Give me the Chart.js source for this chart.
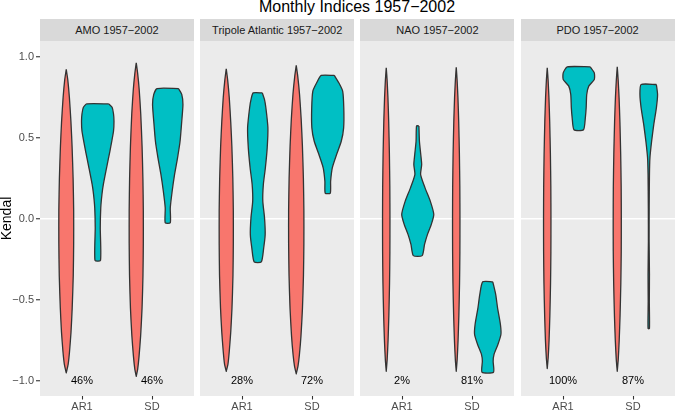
<!DOCTYPE html>
<html>
<head>
<meta charset="utf-8">
<script src="https://cdn.jsdelivr.net/npm/chart.js@4"></script>
<style>
  body { margin: 0; background: #fff; font-family: "Liberation Sans", Arial, sans-serif; }
  #wrap { position: relative; width: 675px; height: 411px; overflow: hidden; }
  canvas { position: absolute; top: 41px; }
  .strip { position: absolute; top: 19px; height: 22px; line-height: 23px; background: #D9D9D9;
           color: #1A1A1A; font-size: 11px; text-align: center; white-space: nowrap; }
  #title { position: absolute; left: 40px; width: 634px; top: -1px; font-size: 16px; line-height: 16px;
           text-align: center; color: #000; }
</style>
</head>
<body>
<div id="wrap">
  <div id="title">Monthly Indices 1957−2002</div>
  <div class="strip" id="s0"></div>
  <div class="strip" id="s1"></div>
  <div class="strip" id="s2"></div>
  <div class="strip" id="s3"></div>
  <canvas id="c0" width="194" height="370"></canvas>
  <canvas id="c1" width="154" height="370"></canvas>
  <canvas id="c2" width="154" height="370"></canvas>
  <canvas id="c3" width="154" height="370"></canvas>
</div>
<script>
const panels = ["AMO 1957−2002", "Tripole Atlantic 1957−2002", "NAO 1957−2002", "PDO 1957−2002"];
const indicators = ["AR1", "SD"];
const yTicks = [-1.0, -0.5, 0.0, 0.5, 1.0];
const pctLabels = [["46%", "46%"], ["28%", "72%"], ["2%", "81%"], ["100%", "87%"]];

// violin outlines: [kendall value, half width]
const amoRedAR1 = [[0.924,0],[0.86,0.022],[0.75,0.045],[0.6,0.067],[0.45,0.083],[0.25,0.098],[0.05,0.106],[-0.15,0.106],[-0.35,0.1],[-0.55,0.085],[-0.7,0.068],[-0.82,0.047],[-0.9,0.027],[-0.952,0]];
const amoRedSD = [[0.965,0],[0.9,0.02],[0.8,0.042],[0.65,0.064],[0.45,0.083],[0.25,0.095],[0.05,0.101],[-0.15,0.101],[-0.35,0.096],[-0.55,0.083],[-0.72,0.063],[-0.85,0.04],[-0.93,0.02],[-0.973,0]];
const amoCyanAR1 = [[0.711,0.157],[0.69,0.205],[0.65,0.225],[0.604,0.232],[0.542,0.225],[0.48,0.2],[0.419,0.174],[0.316,0.126],[0.213,0.08],[0.151,0.06],[0.068,0.043],[-0.055,0.036],[-0.257,0.039]];
const amoCyanSD = [[0.806,0.152],[0.77,0.2],[0.707,0.217],[0.604,0.2],[0.48,0.176],[0.378,0.14],[0.274,0.097],[0.171,0.063],[0.068,0.036],[-0.024,0.036]];

const triRedAR1 = [[0.928,0],[0.86,0.02],[0.75,0.043],[0.6,0.064],[0.45,0.08],[0.25,0.094],[0.05,0.101],[-0.15,0.101],[-0.35,0.096],[-0.55,0.082],[-0.7,0.064],[-0.82,0.043],[-0.9,0.024],[-0.942,0]];
const triRedSD = [[0.949,0],[0.88,0.022],[0.77,0.047],[0.62,0.07],[0.45,0.088],[0.25,0.102],[0.05,0.109],[-0.15,0.109],[-0.35,0.103],[-0.55,0.089],[-0.72,0.068],[-0.84,0.045],[-0.91,0.025],[-0.958,0]];
const triCyanAR1 = [[0.779,0.065],[0.74,0.095],[0.687,0.116],[0.563,0.145],[0.439,0.135],[0.316,0.109],[0.213,0.08],[0.11,0.072],[0.006,0.097],[-0.097,0.106],[-0.179,0.085],[-0.266,0.051]];
const triCyanSD = [[0.887,0.094],[0.84,0.16],[0.79,0.213],[0.687,0.229],[0.563,0.227],[0.48,0.193],[0.398,0.126],[0.316,0.065],[0.233,0.041],[0.159,0.036]];

const naoRedAR1 = [[0.934,0],[0.86,0.012],[0.75,0.024],[0.6,0.035],[0.4,0.045],[0.2,0.051],[0,0.053],[-0.2,0.052],[-0.4,0.047],[-0.6,0.037],[-0.75,0.026],[-0.87,0.013],[-0.942,0]];
const naoRedSD = [[0.938,0],[0.86,0.012],[0.75,0.024],[0.6,0.035],[0.4,0.045],[0.2,0.051],[0,0.053],[-0.2,0.052],[-0.4,0.047],[-0.6,0.037],[-0.75,0.026],[-0.87,0.013],[-0.942,0]];
const naoCyanAR1 = [[0.575,0.017],[0.48,0.024],[0.398,0.043],[0.336,0.056],[0.274,0.041],[0.192,0.104],[0.11,0.179],[0.027,0.229],[-0.035,0.193],[-0.097,0.138],[-0.158,0.097],[-0.227,0.063]];
const naoCyanSD = [[-0.389,0.072],[-0.468,0.114],[-0.55,0.14],[-0.653,0.181],[-0.715,0.188],[-0.777,0.145],[-0.839,0.089],[-0.88,0.077],[-0.948,0.082]];

const pdoRedAR1 = [[0.934,0],[0.86,0.012],[0.75,0.024],[0.6,0.035],[0.4,0.045],[0.2,0.051],[0,0.053],[-0.2,0.052],[-0.4,0.047],[-0.6,0.037],[-0.75,0.026],[-0.86,0.013],[-0.925,0]];
const pdoRedSD = [[0.94,0],[0.86,0.013],[0.75,0.026],[0.6,0.038],[0.4,0.049],[0.2,0.056],[0,0.058],[-0.2,0.057],[-0.4,0.051],[-0.6,0.04],[-0.75,0.028],[-0.87,0.014],[-0.942,0]];
const pdoCyanAR1 = [[0.94,0.164],[0.903,0.222],[0.862,0.222],[0.821,0.143],[0.769,0.114],[0.687,0.106],[0.625,0.094],[0.551,0.068]];
const pdoCyanSD = [[0.831,0.109],[0.769,0.126],[0.687,0.109],[0.584,0.072],[0.48,0.041],[0.378,0.017],[0.274,0.01],[0.068,0.006],[-0.138,0.005],[-0.344,0.01],[-0.509,0.008],[-0.678,0.01]];

const redViolins = [[amoRedAR1, amoRedSD], [triRedAR1, triRedSD], [naoRedAR1, naoRedSD], [pdoRedAR1, pdoRedSD]];
const cyanViolins = [[amoCyanAR1, amoCyanSD], [triCyanAR1, triCyanSD], [naoCyanAR1, naoCyanSD], [pdoCyanAR1, pdoCyanSD]];

const red = "#F8766D";
const cyan = "#00BFC4";
const dodge = 0.225;
const panelLeft = [40, 200.2, 360.4, 520.6];
const panelWidth = 154;

Chart.defaults.font.family = '"Liberation Sans", Arial, sans-serif';

function violin(points, center, color) {
  const right = points.map(p => ({ x: center + p[1], y: p[0] }));
  const left = points.slice().reverse().map(p => ({ x: center - p[1], y: p[0] }));
  const data = right.concat(left);
  data.push(data[0]);
  return {
    data: data,
    fill: "shape",
    backgroundColor: color,
    borderColor: "#333333",
    borderWidth: 1.3,
    borderJoinStyle: "round",
    pointRadius: 0,
    tension: 0.2
  };
}

const panelBg = {
  id: "panelBg",
  beforeDraw(chart) {
    const a = chart.chartArea;
    const ctx = chart.ctx;
    ctx.save();
    ctx.fillStyle = "#EBEBEB";
    ctx.fillRect(a.left, a.top, a.right - a.left, a.bottom - a.top);
    ctx.restore();
  }
};

const pctText = {
  id: "pctText",
  afterDatasetsDraw(chart) {
    const ctx = chart.ctx;
    const labels = chart.options.plugins.pctText.labels;
    ctx.save();
    ctx.font = '11px "Liberation Sans", Arial, sans-serif';
    ctx.fillStyle = "#000";
    ctx.textAlign = "center";
    ctx.textBaseline = "middle";
    labels.forEach(function(t, i) {
      ctx.fillText(t, chart.scales.x.getPixelForValue(i + 1), chart.scales.y.getPixelForValue(-1.0));
    });
    ctx.restore();
  }
};

for (let p = 0; p < panels.length; p++) {
  const strip = document.getElementById("s" + p);
  strip.textContent = panels[p];
  strip.style.left = panelLeft[p] + "px";
  strip.style.width = panelWidth + "px";

  const canvas = document.getElementById("c" + p);
  const first = p === 0;
  canvas.style.left = (first ? 0 : panelLeft[p]) + "px";

  const datasets = [];
  for (let k = 0; k < indicators.length; k++) {
    datasets.push(violin(redViolins[p][k], k + 1 - dodge, red));
    datasets.push(violin(cyanViolins[p][k], k + 1 + dodge, cyan));
  }

  new Chart(canvas, {
    type: "line",
    data: { datasets: datasets },
    plugins: [panelBg, pctText],
    options: {
      responsive: false,
      animation: false,
      layout: { padding: 0 },
      plugins: {
        legend: { display: false },
        tooltip: { enabled: false },
        pctText: { labels: pctLabels[p] }
      },
      scales: {
        x: {
          type: "linear",
          min: 0.4,
          max: 2.6,
          border: { display: false },
          grid: { drawOnChartArea: false, drawTicks: true, tickLength: 3.5, tickColor: "#333333", tickWidth: 1.1 },
          ticks: {
            padding: 0.5,
            color: "#4D4D4D",
            font: { size: 11 },
            maxRotation: 0,
            callback: v => indicators[v - 1]
          },
          afterBuildTicks: s => { s.ticks = indicators.map((c, i) => ({ value: i + 1 })); },
          afterFit: s => { s.height = 15; s.paddingLeft = 0; s.paddingRight = 0; }
        },
        y: {
          min: -1.095,
          max: 1.10,
          border: { display: false },
          grid: {
            color: c => c.tick && c.tick.value === 0 ? "#FFFFFF" : "rgba(0,0,0,0)",
            lineWidth: 1.5,
            drawTicks: first,
            tickLength: 4,
            tickColor: "#333333",
            tickWidth: 1.1
          },
          ticks: {
            display: first,
            padding: 2,
            color: "#4D4D4D",
            font: { size: 11 },
            callback: v => v.toFixed(1).replace("-", "−")
          },
          title: {
            display: first,
            text: "Kendal",
            color: "#000",
            font: { size: 14, lineHeight: 1 },
            padding: 0
          },
          afterBuildTicks: s => { s.ticks = yTicks.map(v => ({ value: v })); },
          afterFit: s => { s.width = first ? 40 : 0; s.paddingTop = 0; s.paddingBottom = 0; }
        }
      }
    }
  });
}
</script>
</body>
</html>
